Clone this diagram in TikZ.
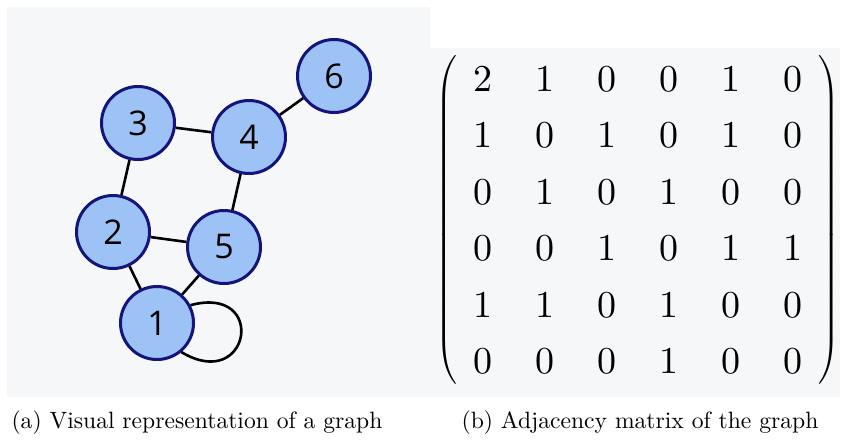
\documentclass[tikz,border=0pt]{standalone}
\usepackage{fix-cm}
\usepackage{amsmath}
\usepackage{fontspec}
\newfontfamily\vertexfont{Open Sans}
\newfontfamily\entryfont{lmroman10-regular.otf}
\usepackage{xcolor}
\usetikzlibrary{arrows.meta,positioning,matrix}

\definecolor{panelgray}{HTML}{F6F7F9}
\definecolor{vertexfill}{HTML}{9DC3F6}
\definecolor{vertexline}{HTML}{14147A}

\begin{document}
\begin{tikzpicture}[x=1pt, y=-1pt, >=Stealth,
    vertex/.style={circle, draw=vertexline, fill=vertexfill, line width=3pt,
      minimum size=73pt, inner sep=0pt, font=\vertexfont\fontsize{34}{40}\selectfont},
    link/.style={line width=2.6pt, black},
    entry/.style={minimum width=40pt, minimum height=48pt, inner sep=0pt,
      font=\entryfont\fontsize{38}{46}\selectfont},
    every delimiter/.style={font=\fontsize{38}{46}\selectfont, inner sep=0pt},
    caption/.style={font=\entryfont\fontsize{23.6}{28}\selectfont}]
  \useasboundingbox (0,0) rectangle (841,440);
  % panels
  \fill[panelgray] (7,7) rectangle (430,397);
  \fill[panelgray] (430,48) rectangle (840,397);
  % the graph
  \node[vertex] (v6) at (334,76) {6};
  \node[vertex] (v3) at (138,123) {3};
  \node[vertex] (v4) at (249,137) {4};
  \node[vertex] (v2) at (113,232) {2};
  \node[vertex] (v5) at (224,247) {5};
  \node[vertex] (v1) at (157,323) {1};
  \draw[link] (v3) -- (v4);
  \draw[link] (v4) -- (v6);
  \draw[link] (v3) -- (v2);
  \draw[link] (v4) -- (v5);
  \draw[link] (v2) -- (v5);
  \draw[link] (v2) -- (v1);
  \draw[link] (v5) -- (v1);
  \draw[link] (v1.28) to[out=15, in=-31, looseness=4.3] (v1.-50);
  % adjacency matrix
  \matrix (adj) [matrix of nodes, nodes={entry}, column sep=22pt, row sep=8pt,
      inner xsep=4pt, inner ysep=0pt, left delimiter=(, right delimiter=)]
      at (638,220) {
    2 & 1 & 0 & 0 & 1 & 0\\
    1 & 0 & 1 & 0 & 1 & 0\\
    0 & 1 & 0 & 1 & 0 & 0\\
    0 & 0 & 1 & 0 & 1 & 1\\
    1 & 1 & 0 & 1 & 0 & 0\\
    0 & 0 & 0 & 1 & 0 & 0\\
  };
  % captions
  \node[caption] (capa) at (197,423) {(a) Visual representation of a graph};
  \node[caption] (capb) at (640,423) {(b) Adjacency matrix of the graph};
\end{tikzpicture}
\end{document}
